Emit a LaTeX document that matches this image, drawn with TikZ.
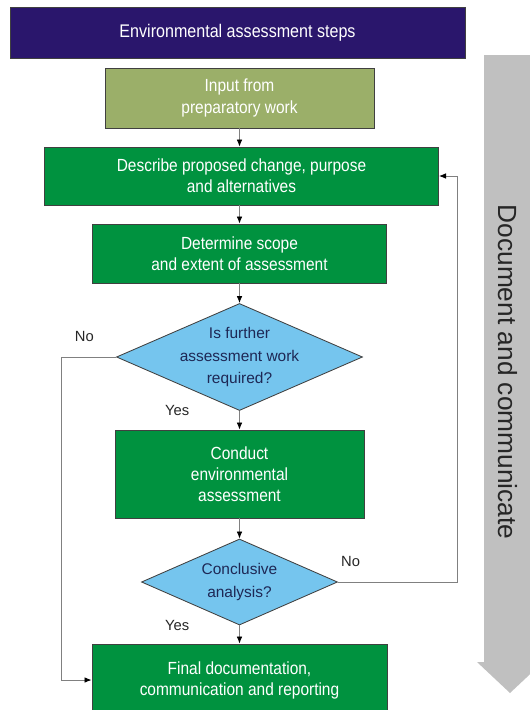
\documentclass[tikz,border=0pt]{standalone}
\usepackage{fontspec}
\setmainfont{Liberation Sans}
\newfontfamily\narrowfont[FakeStretch=0.88]{Liberation Sans}
\usetikzlibrary{shapes.geometric,arrows.meta,positioning}

\definecolor{navy}{RGB}{42,22,108}
\definecolor{olive}{RGB}{155,175,105}
\definecolor{stepgreen}{RGB}{0,146,63}
\definecolor{skyblue}{RGB}{117,197,238}
\definecolor{arrowgray}{RGB}{192,192,192}
\definecolor{linegray}{RGB}{128,128,128}
\definecolor{qtext}{RGB}{30,40,85}

\begin{document}
\begin{tikzpicture}[x=0.025cm,y=-0.025cm,
    box/.style={draw=black!75,line width=0.6pt,align=center,text=white,inner sep=0pt,
        font=\narrowfont\fontsize{12.5}{15}\selectfont},
    titlebox/.style={box,fill=navy,minimum width=11.375cm,minimum height=1.275cm,
        font=\narrowfont\fontsize{13}{15}\selectfont},
    inputbox/.style={box,fill=olive},
    stepbox/.style={box,fill=stepgreen},
    decision/.style={diamond,aspect=2.3,draw=black!75,line width=0.6pt,fill=skyblue,
        align=center,text=qtext,inner sep=-9pt,font=\fontsize{11}{16}\selectfont},
    flow/.style={draw=linegray,line width=0.6pt,-{Latex[length=5pt,width=4pt,black]}},
    answer/.style={font=\fontsize{10.5}{12}\selectfont,text=black!85,inner sep=0pt}]

    \useasboundingbox (0,0) rectangle (529,710);

    % big arrow down the right side
    \fill[arrowgray] (484,55) -- (536,55) -- (536,662) -- (543,662) -- (510,693)
        -- (477,662) -- (484,662) -- cycle;
    \node[rotate=-90,font=\fontsize{18.7}{20}\selectfont,text=black!85] (side) at (508,372)
        {Document and communicate};

    \node[titlebox] (title) at (237.5,32.5) {Environmental assessment steps};
    \node[inputbox,minimum width=6.725cm,minimum height=1.5cm] (input) at (239.5,98)
        {Input from\\preparatory work};
    \node[stepbox,minimum width=9.85cm,minimum height=1.45cm] (describe) at (241.5,176)
        {Describe proposed change, purpose\\and alternatives};
    \node[stepbox,minimum width=7.35cm,minimum height=1.475cm] (scope) at (239.5,253.5)
        {Determine scope\\and extent of assessment};
    \node[decision,minimum width=6.15cm,minimum height=2.675cm] (further) at (239.5,357)
        {Is further\\assessment work\\required?};
    \node[stepbox,minimum width=6.225cm,minimum height=2.2cm] (conduct) at (239.5,474)
        {Conduct\\environmental\\assessment};
    \node[decision,minimum width=4.9cm,minimum height=2.15cm] (conclusive) at (239.5,582)
        {Conclusive\\analysis?};
    \node[stepbox,minimum width=7.375cm,minimum height=1.8cm] (final) at (239.5,680)
        {Final documentation,\\communication and reporting};

    \node[answer,above left=0.375cm and 0.55cm of further.west] (no1) {No};
    \node[answer,left=1.25cm of further.south] (yes1) {Yes};
    \node[answer,above right=0.375cm and 0.075cm of conclusive.east] (no2) {No};
    \node[answer,left=1.25cm of conclusive.south] (yes2) {Yes};

    % main column
    \path[flow] (input) -- (describe.north -| input);
    \path[flow] (describe.south -| scope) -- (scope);
    \path[flow] (scope) -- (further);
    \path[flow] (further) -- (conduct);
    \path[flow] (conduct) -- (conclusive);
    \path[flow] (conclusive) -- (final);

    % side loops
    \path[flow] (further.west) -- ++(-55,0) |- (final.west);
    \path[flow] (conclusive.east) -- ++(119,0) |- (describe.east);
\end{tikzpicture}
\end{document}
